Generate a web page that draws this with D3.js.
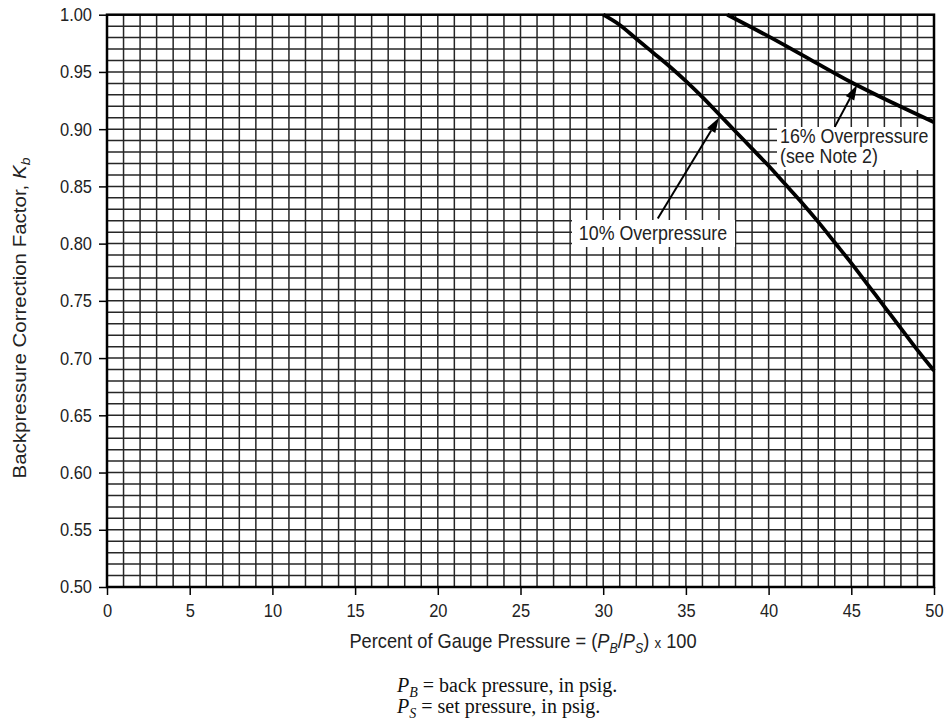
<!DOCTYPE html>
<html><head><meta charset="utf-8">
<script src="https://cdn.jsdelivr.net/npm/d3@7"></script>
<style>body{margin:0;background:#fff}svg{display:block}</style>
</head><body>
<svg id="chart" width="948" height="724"></svg>
<script>
// ---- data ----
const xTickValues = [0, 5, 10, 15, 20, 25, 30, 35, 40, 45, 50];
const yTickValues = [0.50, 0.55, 0.60, 0.65, 0.70, 0.75, 0.80, 0.85, 0.90, 0.95, 1.00];
const xGridValues = [0,1,2,3,4,5,6,7,8,9,10,11,12,13,14,15,16,17,18,19,20,21,22,23,24,25,26,27,28,29,30,31,32,33,34,35,36,37,38,39,40,41,42,43,44,45,46,47,48,49,50];
const yGridValues = [0.50,0.51,0.52,0.53,0.54,0.55,0.56,0.57,0.58,0.59,0.60,0.61,0.62,0.63,0.64,0.65,0.66,0.67,0.68,0.69,0.70,0.71,0.72,0.73,0.74,0.75,0.76,0.77,0.78,0.79,0.80,0.81,0.82,0.83,0.84,0.85,0.86,0.87,0.88,0.89,0.90,0.91,0.92,0.93,0.94,0.95,0.96,0.97,0.98,0.99,1.00];
const over10X = [30, 31, 32, 33, 34, 35, 36, 37, 38, 39, 40, 41, 42, 43, 44, 45, 46, 47, 48, 49, 50];
const over10Y = [1.000, 0.991, 0.979, 0.967, 0.955, 0.942, 0.928, 0.913, 0.898, 0.883, 0.868, 0.852, 0.836, 0.819, 0.801, 0.783, 0.764, 0.745, 0.726, 0.707, 0.689];
const over16X = [37.5, 40, 42.5, 45, 47.5, 50];
const over16Y = [1.000, 0.981, 0.961, 0.941, 0.923, 0.906];
const arrow10 = [[33.3, 0.822], [37.0, 0.910]];
const arrow16 = [[44.0, 0.902], [45.35, 0.9385]];
const label10 = ["10% Overpressure"];
const label16 = ["16% Overpressure", "(see Note 2)"];

// ---- layout ----
const svg = d3.select("#chart");
const L = 107, R = 934, T = 14.7, B = 587;
const SQ = 0.89;
const x = d3.scaleLinear().domain([0, 50]).range([L, R]);
const y = d3.scaleLinear().domain([0.5, 1.0]).range([B, T]);
const sans = "'Liberation Sans', Arial, sans-serif";
const serif = "'Liberation Serif', 'Times New Roman', serif";

// grid
const grid = svg.append("g").attr("stroke", "#262626").attr("stroke-width", 1.5);
grid.selectAll("line.v").data(xGridValues).join("line").attr("class", "v")
  .attr("x1", d => x(d)).attr("x2", d => x(d)).attr("y1", T).attr("y2", B);
grid.selectAll("line.h").data(yGridValues).join("line").attr("class", "h")
  .attr("y1", d => y(d)).attr("y2", d => y(d)).attr("x1", L).attr("x2", R);

// curves
const line = d3.line().x(d => x(d[0])).y(d => y(d[1])).curve(d3.curveMonotoneX);
svg.append("path").datum(over10X.map((v, i) => [v, over10Y[i]]))
  .attr("d", line).attr("fill", "none").attr("stroke", "#000").attr("stroke-width", 3.8);
svg.append("path").datum(over16X.map((v, i) => [v, over16Y[i]]))
  .attr("d", line).attr("fill", "none").attr("stroke", "#000").attr("stroke-width", 3.8);

// label boxes
svg.append("rect").attr("x", 572).attr("y", 220).attr("width", 163).attr("height", 27).attr("fill", "#fff");
svg.append("rect").attr("x", 777).attr("y", 127).attr("width", R - 777).attr("height", 43).attr("fill", "#fff");

// border
svg.append("rect").attr("x", L).attr("y", T).attr("width", R - L).attr("height", B - T)
  .attr("fill", "none").attr("stroke", "#000").attr("stroke-width", 2.5);

// axes
const yAxis = d3.axisLeft(y).tickValues(yTickValues).tickFormat(d3.format(".2f"))
  .tickSize(8).tickPadding(7).tickSizeOuter(0);
const gy = svg.append("g").attr("transform", `translate(${L},0)`).call(yAxis);
gy.select(".domain").remove();
gy.selectAll(".tick line").attr("stroke", "#000").attr("stroke-width", 1.5);
gy.selectAll(".tick text").attr("font-family", sans).attr("font-size", 18.5).attr("fill", "#222")
  .attr("x", -15 / SQ).attr("transform", `scale(${SQ},1)`);

const xAxis = d3.axisBottom(x).tickValues(xTickValues).tickFormat(d3.format("d"))
  .tickSize(8).tickPadding(9).tickSizeOuter(0);
const gx = svg.append("g").attr("transform", `translate(0,${B})`).call(xAxis);
gx.select(".domain").remove();
gx.selectAll(".tick line").attr("stroke", "#000").attr("stroke-width", 1.5);
gx.selectAll(".tick text").attr("font-family", sans).attr("font-size", 18.5).attr("fill", "#222")
  .attr("transform", `scale(${SQ},1)`);

// helper for squeezed text
function sq(px, py, rot) {
  return svg.append("g").attr("transform", `translate(${px},${py}) scale(${SQ},1)` + (rot ? ` rotate(${rot})` : ""))
    .append("text").attr("font-family", sans).attr("fill", "#222");
}

// x title
const xt = sq(523, 648).attr("font-size", 20.5).attr("text-anchor", "middle");
xt.append("tspan").text("Percent of Gauge Pressure = (");
xt.append("tspan").attr("font-style", "italic").text("P");
xt.append("tspan").attr("font-style", "italic").attr("font-size", 14).attr("dy", 5).text("B");
xt.append("tspan").attr("dy", -5).text("/");
xt.append("tspan").attr("font-style", "italic").text("P");
xt.append("tspan").attr("font-style", "italic").attr("font-size", 14).attr("dy", 5).text("S");
xt.append("tspan").attr("dy", -5).text(") ");
xt.append("tspan").attr("font-size", 15).text("x");
xt.append("tspan").text(" 100");

// y title
const yt = sq(26, 318, -90).attr("font-size", 20.5).attr("text-anchor", "middle");
yt.append("tspan").text("Backpressure Correction Factor, ");
yt.append("tspan").attr("font-style", "italic").text("K");
yt.append("tspan").attr("font-style", "italic").attr("font-size", 14).attr("dy", 5).text("b");

// annotation labels
sq(653, 240).attr("font-size", 20).attr("text-anchor", "middle").text(label10[0]);
sq(780, 143).attr("font-size", 20).text(label16[0]);
sq(780, 163).attr("font-size", 20).text(label16[1]);

// arrows
function arrow(a) {
  const x1 = x(a[0][0]), y1 = y(a[0][1]), x2 = x(a[1][0]), y2 = y(a[1][1]);
  const ang = Math.atan2(y2 - y1, x2 - x1), hl = 15, hw = 4.8;
  const bx = x2 - hl * Math.cos(ang), by = y2 - hl * Math.sin(ang);
  svg.append("line").attr("x1", x1).attr("y1", y1).attr("x2", bx).attr("y2", by)
    .attr("stroke", "#000").attr("stroke-width", 2);
  const px = -Math.sin(ang) * hw, py = Math.cos(ang) * hw;
  svg.append("path").attr("d", `M${x2},${y2}L${bx + px},${by + py}L${bx - px},${by - py}Z`).attr("fill", "#000");
}
arrow(arrow10);
arrow(arrow16);

// footnotes
function foot(py, sub, rest) {
  const t = svg.append("text").attr("x", 397).attr("y", py).attr("font-family", serif)
    .attr("font-size", 20).attr("fill", "#111");
  t.append("tspan").attr("font-style", "italic").text("P");
  t.append("tspan").attr("font-style", "italic").attr("font-size", 14).attr("dy", 5).text(sub);
  t.append("tspan").attr("dy", -5).text(" " + rest);
}
foot(692, "B", "= back pressure, in psig.");
foot(713, "S", "= set pressure, in psig.");
</script>
</body></html>
